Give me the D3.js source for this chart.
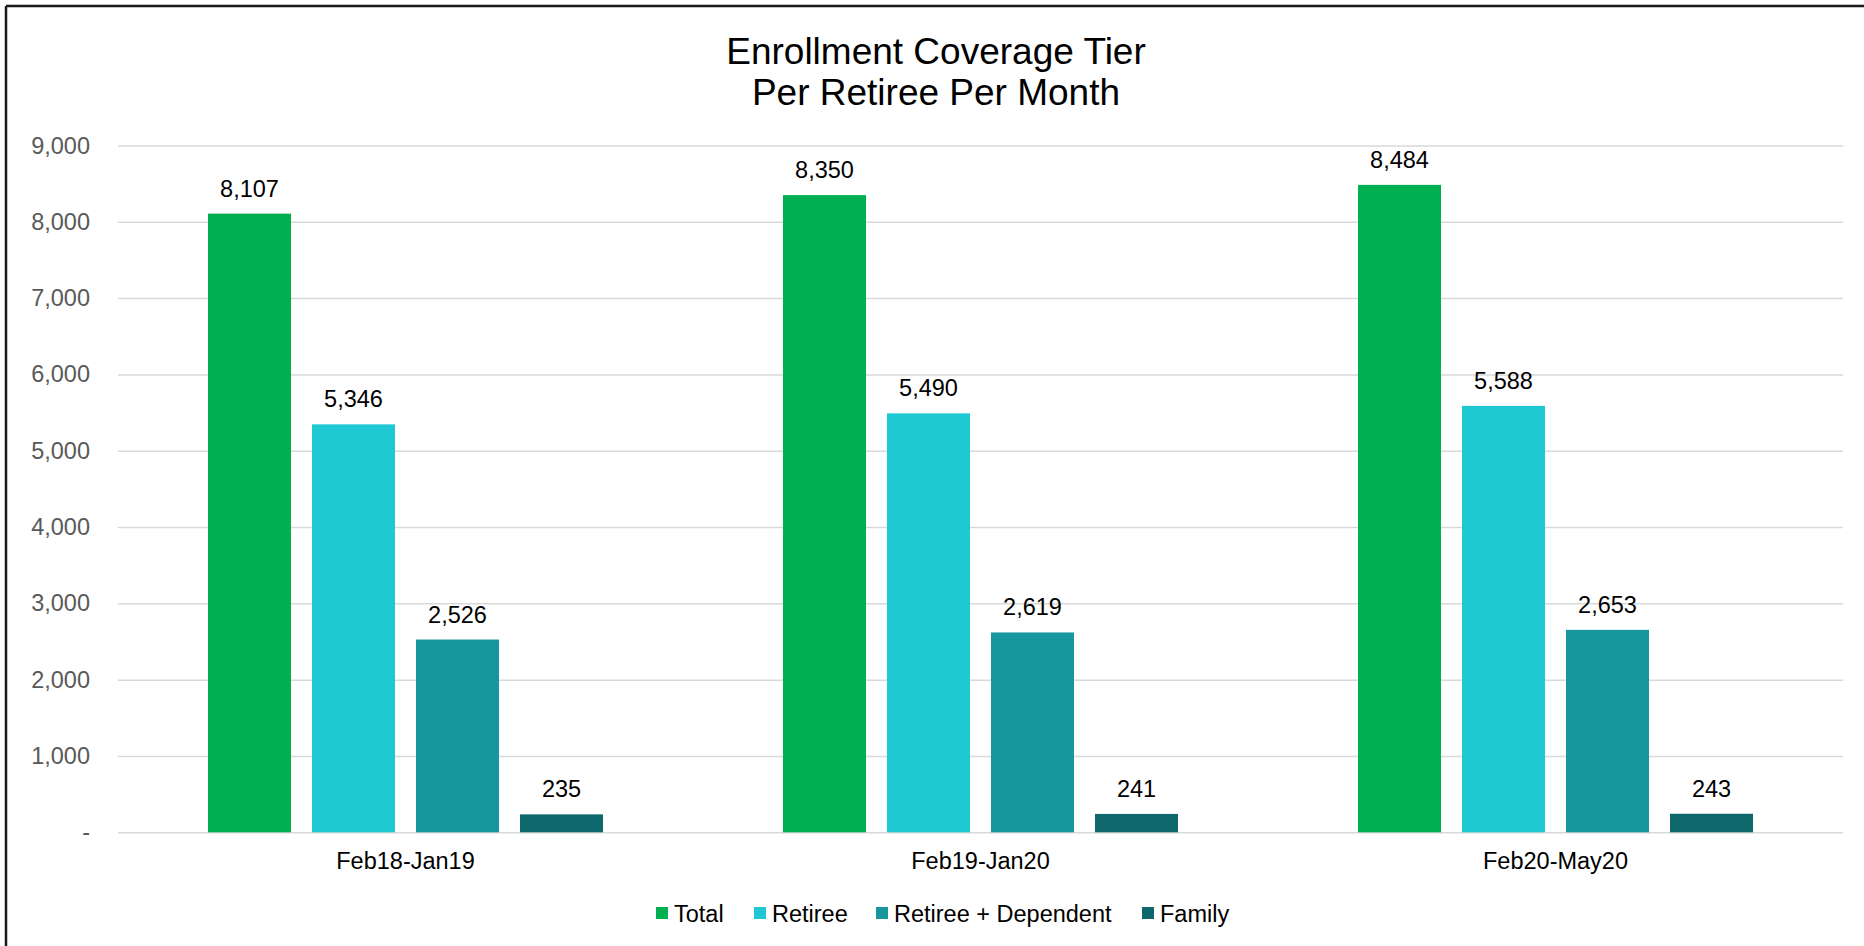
<!DOCTYPE html>
<html lang='en'>
    <head>
        <script src="https://d3js.org/d3.v7.min.js"></script>
    </head>
    <style>
        body{
            margin:0px;
            padding:0px;
            background-color:white;
        }
        svg{
            display:block;
            font-family:'Liberation Sans', Arial, sans-serif;
        }
        .grid line{
            stroke:#d9d9d9;
            stroke-width:1.5;
        }
        .grid text{
            fill:#595959;
            font-size:23.5px;
        }
    </style>
    <body>
        <svg id="chart" width="1864" height="946"></svg>
        <script>
            // chart data
            const categories=['Feb18-Jan19','Feb19-Jan20','Feb20-May20'];
            const seriesNames=['Total','Retiree','Retiree + Dependent','Family'];
            const total=[8107,8350,8484];
            const retiree=[5346,5490,5588];
            const retireeDependent=[2526,2619,2653];
            const family=[235,241,243];
            const yTicks=[0,1000,2000,3000,4000,5000,6000,7000,8000,9000];
            const colors=['#00af50','#1fc9d3','#17979d','#0e676a'];

            const seriesValues=[total,retiree,retireeDependent,family];
            const plotLeft=118, plotRight=1843, plotTop=145.5, plotBottom=832.3;

            const svg=d3.select('#chart');

            // frame (top and left edges only show in the picture)
            svg.append('line').attr('x1',6).attr('y1',6).attr('x2',1864).attr('y2',6)
               .attr('stroke','#1a1a1a').attr('stroke-width',2.5);
            svg.append('line').attr('x1',6).attr('y1',6).attr('x2',6).attr('y2',946)
               .attr('stroke','#1a1a1a').attr('stroke-width',2.5);

            svg.append('text')
               .attr('x',936).attr('y',64)
               .attr('text-anchor','middle')
               .style('font-size','37px')
               .text('Enrollment Coverage Tier');
            svg.append('text')
               .attr('x',936).attr('y',105)
               .attr('text-anchor','middle')
               .style('font-size','37px')
               .text('Per Retiree Per Month');

            const x0=d3.scaleBand()
                       .domain(categories)
                       .range([plotLeft,plotRight]);
            const groupPad=(x0.bandwidth()-395)/2;
            const x1=d3.scaleBand()
                       .domain(seriesNames)
                       .range([groupPad,x0.bandwidth()-groupPad])
                       .paddingInner(0.202);
            const yScale=d3.scaleLinear()
                           .domain([0,9000])
                           .range([plotBottom,plotTop]);

            const yAxis=d3.axisLeft(yScale)
                          .tickValues(yTicks)
                          .tickSize(-(plotRight-plotLeft))
                          .tickPadding(28)
                          .tickFormat(d=>d===0?'-':d3.format(',')(d));

            svg.append('g')
               .attr('class','grid')
               .attr('transform','translate('+plotLeft+',0)')
               .call(yAxis)
               .call(g=>g.select('.domain').remove());

            const groups=svg.selectAll('.group')
                            .data(categories)
                            .enter()
                            .append('g')
                            .attr('class','group')
                            .attr('transform',d=>'translate('+x0(d)+',0)');

            groups.selectAll('rect')
                  .data((d,i)=>seriesNames.map((s,j)=>({s:s,v:seriesValues[j][i],c:colors[j]})))
                  .enter()
                  .append('rect')
                  .attr('x',d=>x1(d.s))
                  .attr('y',d=>yScale(d.v))
                  .attr('width',x1.bandwidth())
                  .attr('height',d=>plotBottom-yScale(d.v))
                  .attr('fill',d=>d.c);

            groups.selectAll('.label')
                  .data((d,i)=>seriesNames.map((s,j)=>({s:s,v:seriesValues[j][i]})))
                  .enter()
                  .append('text')
                  .attr('class','label')
                  .attr('x',d=>x1(d.s)+x1.bandwidth()/2)
                  .attr('y',d=>yScale(d.v)-17)
                  .attr('text-anchor','middle')
                  .style('font-size','23.5px')
                  .text(d=>d3.format(',')(d.v));

            groups.append('text')
                  .attr('x',x0.bandwidth()/2)
                  .attr('y',869)
                  .attr('text-anchor','middle')
                  .style('font-size','23.5px')
                  .text(d=>d);

            // legend
            const legendX=[656,754,876,1142];
            const legend=svg.selectAll('.legend')
                            .data(seriesNames)
                            .enter()
                            .append('g')
                            .attr('class','legend')
                            .attr('transform',(d,i)=>'translate('+legendX[i]+',913)');
            legend.append('rect')
                  .attr('x',0).attr('y',-6)
                  .attr('width',12).attr('height',12)
                  .attr('fill',(d,i)=>colors[i]);
            legend.append('text')
                  .attr('x',18).attr('y',8.5)
                  .style('font-size','23.5px')
                  .text(d=>d);
        </script>
    </body>
</html>
